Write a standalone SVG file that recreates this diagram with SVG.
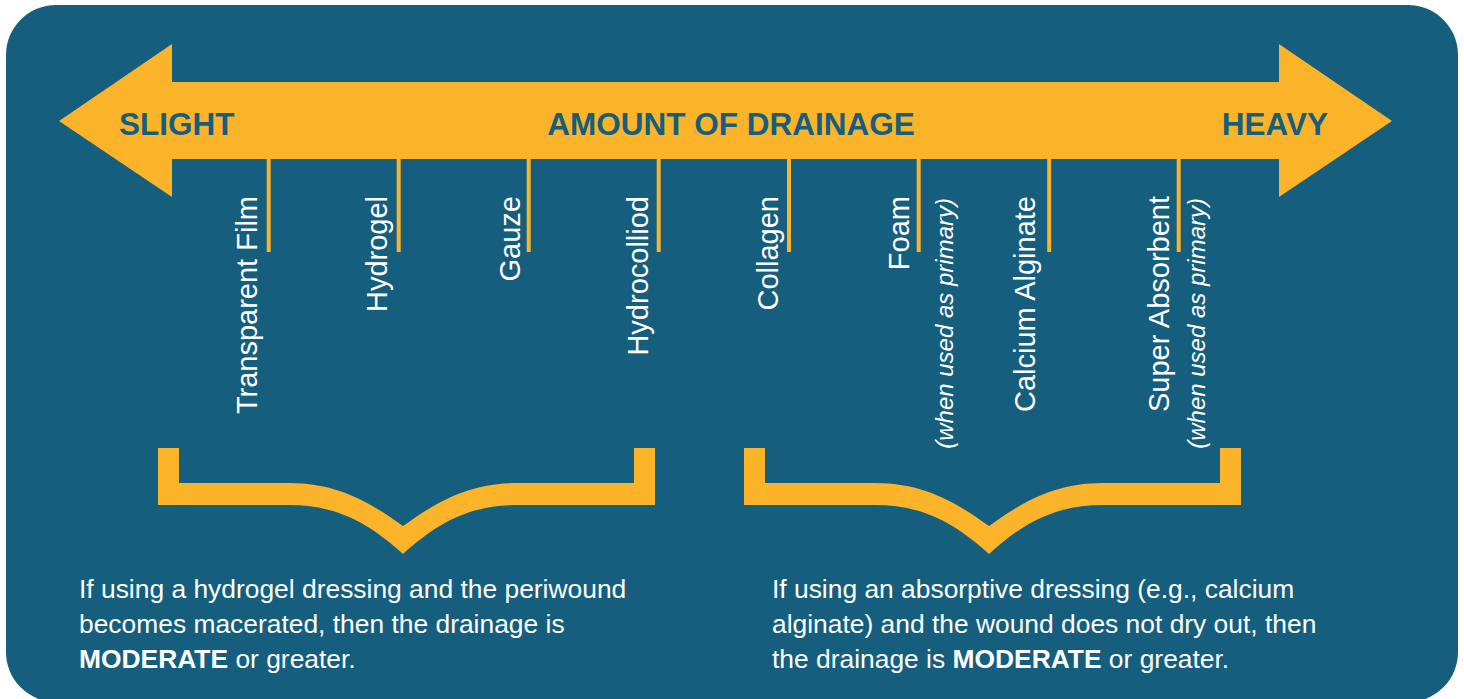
<svg xmlns="http://www.w3.org/2000/svg" xmlns:xlink="http://www.w3.org/1999/xlink" width="1464" height="699" viewBox="0 0 1464 699">
  <style>
    .bg { fill: #155E7E; }
    .yel { fill: #FBB32A; }
    .head { font-family: "Liberation Sans", Arial, sans-serif; font-weight: bold; font-size: 31.5px; fill: #155E7E; }
    .lbl { font-family: "Liberation Sans", Arial, sans-serif; font-size: 29px; fill: #FFFFFF; text-anchor: end; }
    .note { font-family: "Liberation Sans", Arial, sans-serif; font-size: 24px; font-style: italic; fill: #FFFFFF; text-anchor: end; }
    .body { font-family: "Liberation Sans", Arial, sans-serif; font-size: 26.4px; fill: #FFFFFF; }
    .b { font-weight: bold; }
  </style>
  <defs>
    <path id="brace" d="M-245,448 L-224,448 L-224,483 L-114,483 C-62,483 -30,505 0,526 C30,505 62,483 114,483 L231,483 L231,448 L252,448 L252,505 L114,505 C62,505 30,527 0,554 C-30,527 -62,505 -114,505 L-245,505 Z"/>
  </defs>

  <rect id="background" class="bg" x="6" y="5" width="1452" height="697" rx="50" ry="50"/>

  <g id="arrow">
    <polygon class="yel" points="59,121 172,44 172,82 1279,82 1279,44 1392,121 1279,197 1279,159 172,159 172,197"/>
    <text class="head" x="119" y="135">SLIGHT</text>
    <text class="head" x="731" y="135" text-anchor="middle">AMOUNT OF DRAINAGE</text>
    <text class="head" x="1328" y="135" text-anchor="end">HEAVY</text>
  </g>

  <g id="connectors" class="yel">
    <rect x="266.7" y="158" width="4" height="94"/>
    <rect x="396.7" y="158" width="4" height="94"/>
    <rect x="526.7" y="158" width="4" height="94"/>
    <rect x="656.7" y="158" width="4" height="94"/>
    <rect x="787" y="158" width="4" height="94"/>
    <rect x="916.7" y="158" width="4" height="94"/>
    <rect x="1047.2" y="158" width="4" height="94"/>
    <rect x="1176.7" y="158" width="4" height="94"/>
  </g>

  <g id="transparent-film"><text class="lbl" transform="translate(257,196) rotate(-90)">Transparent Film</text></g>
  <g id="hydrogel"><text class="lbl" transform="translate(387,196) rotate(-90)">Hydrogel</text></g>
  <g id="gauze"><text class="lbl" transform="translate(520,196) rotate(-90)">Gauze</text></g>
  <g id="hydrocolliod"><text class="lbl" transform="translate(648,196) rotate(-90)">Hydrocolliod</text></g>
  <g id="collagen"><text class="lbl" transform="translate(778,196) rotate(-90)">Collagen</text></g>
  <g id="foam">
    <text class="lbl" transform="translate(909,196) rotate(-90)">Foam</text>
    <text class="note" transform="translate(953,198) rotate(-90)">(when used as primary)</text>
  </g>
  <g id="calcium-alginate"><text class="lbl" transform="translate(1035,196) rotate(-90)">Calcium Alginate</text></g>
  <g id="super-absorbent">
    <text class="lbl" transform="translate(1169,196) rotate(-90)">Super Absorbent</text>
    <text class="note" transform="translate(1205,198) rotate(-90)">(when used as primary)</text>
  </g>

  <g id="bracket-left"><use xlink:href="#brace" href="#brace" class="yel" transform="translate(403,0)"/></g>
  <g id="bracket-right"><use xlink:href="#brace" href="#brace" class="yel" transform="translate(989,0)"/></g>

  <g id="note-left">
    <text class="body" x="79" y="597.5">If using a hydrogel dressing and the periwound</text>
    <text class="body" x="79" y="632.5">becomes macerated, then the drainage is</text>
    <text class="body" x="79" y="667.5"><tspan class="b">MODERATE</tspan> or greater.</text>
  </g>
  <g id="note-right">
    <text class="body" x="772" y="597.5">If using an absorptive dressing (e.g., calcium</text>
    <text class="body" x="772" y="632.5">alginate) and the wound does not dry out, then</text>
    <text class="body" x="772" y="667.5">the drainage is <tspan class="b">MODERATE</tspan> or greater.</text>
  </g>
</svg>
